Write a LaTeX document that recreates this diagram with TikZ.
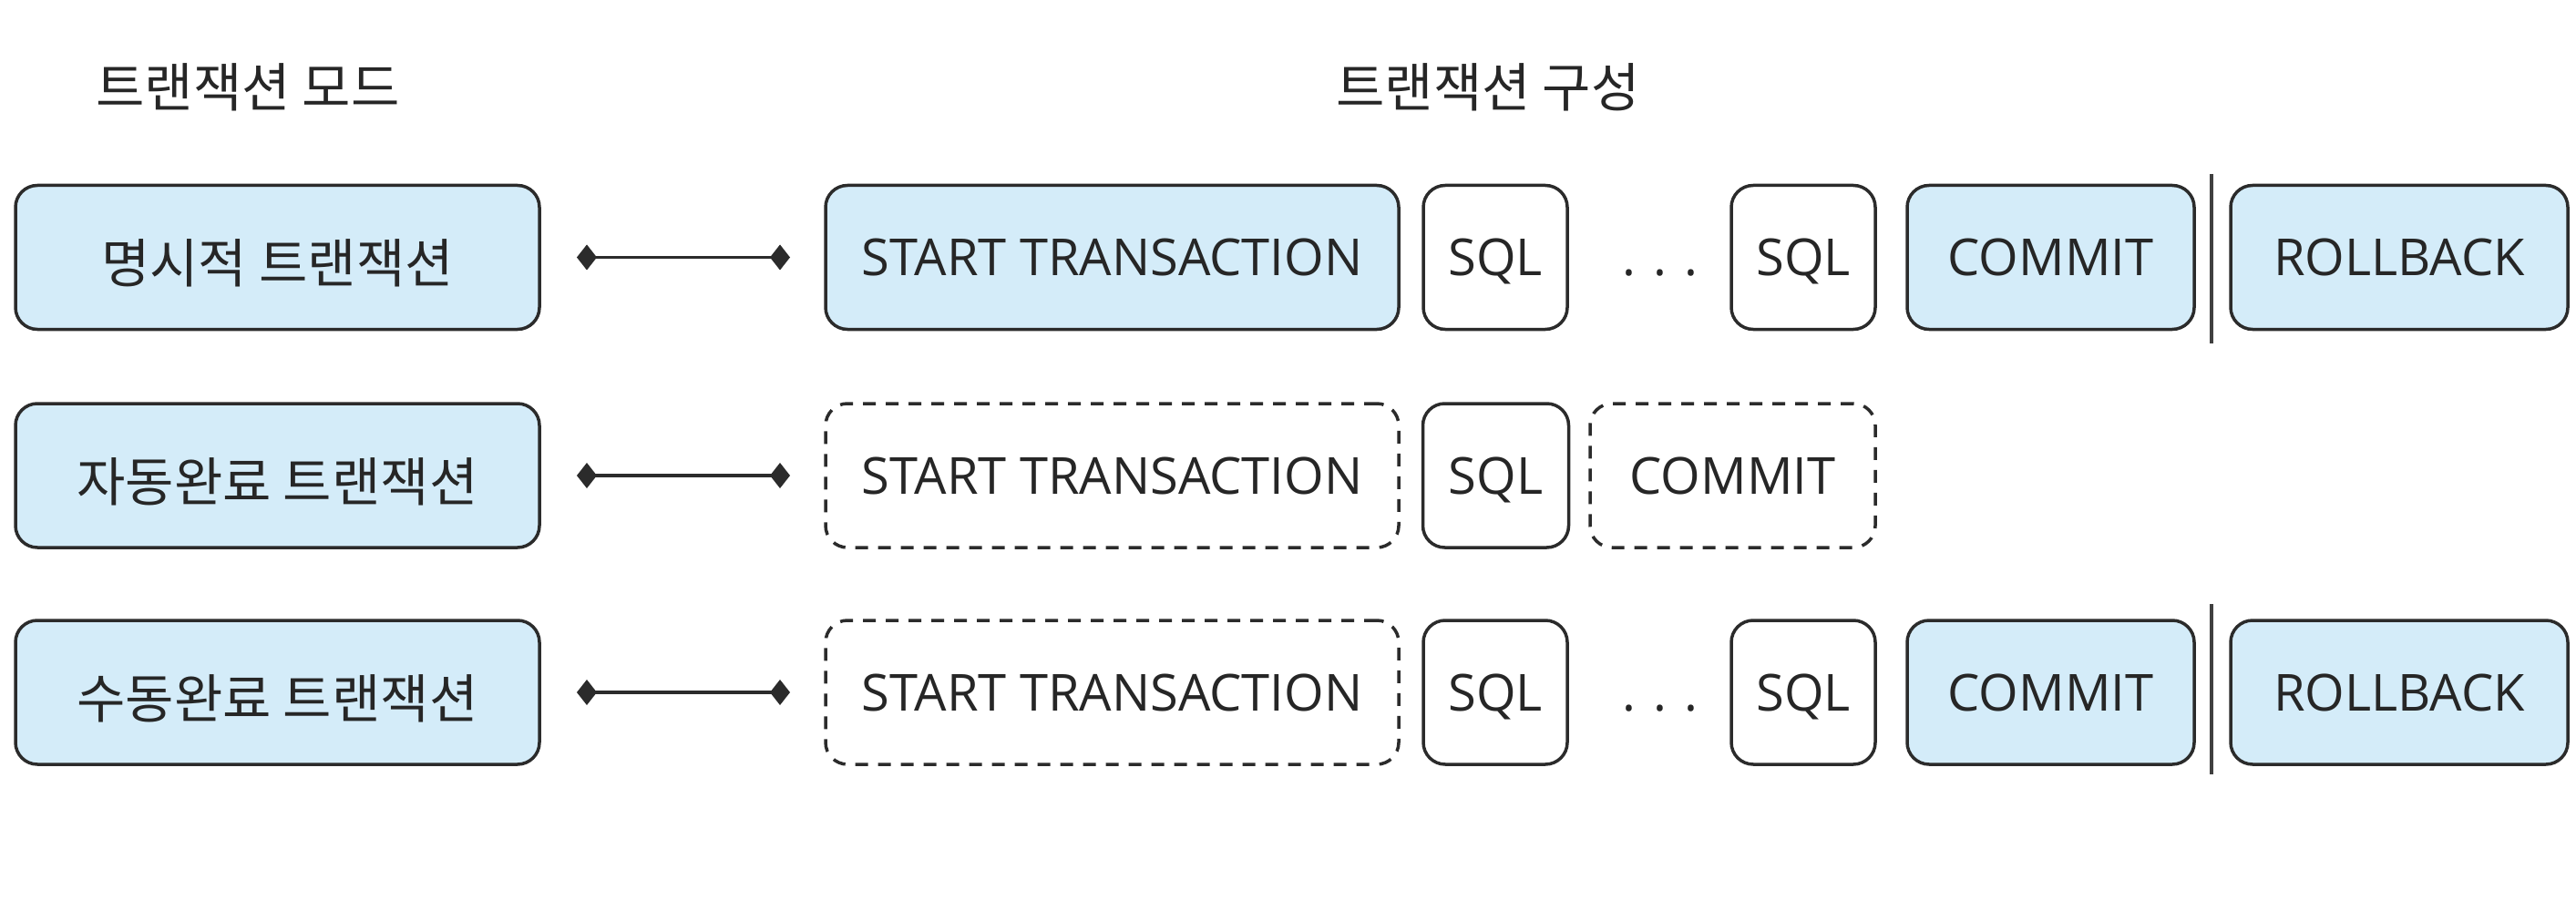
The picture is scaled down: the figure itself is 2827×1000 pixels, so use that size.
\documentclass[tikz,border=0pt]{standalone}
\usepackage{fontspec}
\setmainfont{Open Sans}
\newfontfamily\kr{Noto Sans CJK KR}
\usetikzlibrary{arrows.meta}
\definecolor{boxfill}{HTML}{D4ECF9}
\definecolor{boxline}{HTML}{2B2B2B}
\definecolor{txt}{HTML}{262626}
\tikzset{
  base/.style={draw=boxline, line width=3.5pt, rounded corners=24pt,
    minimum height=158pt, inner sep=0pt, font=\fontsize{56}{60}\selectfont,
    text=txt, text height=40pt, text depth=0pt},
  blue/.style={base, fill=boxfill},
  white/.style={base, fill=white},
  dashbox/.style={base, fill=white, dash pattern=on 14pt off 11pt},
  krtext/.style={font=\kr\fontsize{58}{62}\selectfont, text height=56pt, text depth=0pt},
  dotstext/.style={font=\fontsize{56}{60}\selectfont, text=txt, text height=40pt, text depth=0pt, inner sep=0pt},
  title/.style={font=\kr\fontsize{58}{62}\selectfont, text=txt, inner sep=0pt},
  link/.style={line width=3.5pt, draw=boxline, {Diamond[length=22pt,width=28pt]}-{Diamond[length=22pt,width=28pt]}},
  sep/.style={line width=4pt, draw=boxline!90}
}
\begin{document}
\begin{tikzpicture}[x=1pt,y=-1pt]
\useasboundingbox (0,0) rectangle (2827,1000);
% titles
\node[title] (t1) at (272,96) {트랜잭션 모드};
\node[title] (t2) at (1633,96) {트랜잭션 구성};
% row 1
\node[blue, krtext, minimum width=575pt] (m1) at (304.5,282.5) {명시적 트랜잭션};
\node[blue, minimum width=629pt] (s1) at (1220.5,282.5) {START TRANSACTION};
\node[white, minimum width=158pt] (q1a) at (1641,282.5) {SQL};
\node[dotstext] (d1) at (1822,282.5) {. . .};
\node[white, minimum width=158pt] (q1b) at (1979,282.5) {SQL};
\node[blue, minimum width=315pt] (c1) at (2250.5,282.5) {COMMIT};
\node[blue, minimum width=370pt] (r1) at (2633,282.5) {ROLLBACK};
\coordinate (v1a) at (2427,191);
\coordinate (v1b) at (2427,377);
\draw[sep] (v1a) -- (v1b);
\coordinate (l1a) at (633,282.5);
\coordinate (l1b) at (867,282.5);
\draw[link] (l1a) -- (l1b);
% row 2
\node[blue, krtext, minimum width=575pt] (m2) at (304.5,522) {자동완료 트랜잭션};
\node[dashbox, minimum width=629pt] (s2) at (1220.5,522) {START TRANSACTION};
\node[white, minimum width=160pt] (q2) at (1641.5,522) {SQL};
\node[dashbox, minimum width=313pt] (c2) at (1901.5,522) {COMMIT};
\coordinate (l2a) at (633,522);
\coordinate (l2b) at (867,522);
\draw[link] (l2a) -- (l2b);
% row 3
\node[blue, krtext, minimum width=575pt] (m3) at (304.5,760) {수동완료 트랜잭션};
\node[dashbox, minimum width=629pt] (s3) at (1220.5,760) {START TRANSACTION};
\node[white, minimum width=158pt] (q3a) at (1641,760) {SQL};
\node[dotstext] (d3) at (1822,760) {. . .};
\node[white, minimum width=158pt] (q3b) at (1979,760) {SQL};
\node[blue, minimum width=315pt] (c3) at (2250.5,760) {COMMIT};
\node[blue, minimum width=370pt] (r3) at (2633,760) {ROLLBACK};
\coordinate (v3a) at (2427,663);
\coordinate (v3b) at (2427,850);
\draw[sep] (v3a) -- (v3b);
\coordinate (l3a) at (633,760);
\coordinate (l3b) at (867,760);
\draw[link] (l3a) -- (l3b);
\end{tikzpicture}
\end{document}
